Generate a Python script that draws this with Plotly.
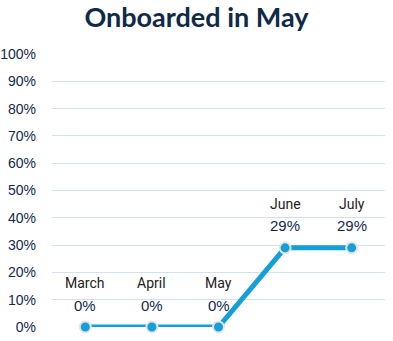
import plotly.graph_objects as go

# Share of staff onboarded, by month
months = ["March", "April", "May", "June", "July"]
values = [0.0, 0.0, 0.0, 0.29, 0.29]
value_labels = ["0%", "0%", "0%", "29%", "29%"]

line_color = "#159fd8"
navy = "#13294b"

fig = go.Figure()
fig.add_trace(go.Scatter(
    x=months, y=values, mode="lines+markers",
    line=dict(color=line_color, width=5),
    marker=dict(size=11, color=line_color, line=dict(color="#e4e4e4", width=2)),
    cliponaxis=False, hoverinfo="skip", showlegend=False,
))

annotations = []
for m, v, lab in zip(months, values, value_labels):
    annotations.append(dict(x=m, y=v, xref="x", yref="y", text=m, showarrow=False,
                            yshift=44, font=dict(family="Roboto", size=14, color="#222222")))
    annotations.append(dict(x=m, y=v, xref="x", yref="y", text=lab, showarrow=False,
                            yshift=22, font=dict(family="Liberation Sans", size=15, color=navy)))

fig.update_layout(
    width=393, height=341,
    margin=dict(l=52, r=8, t=54, b=14),
    paper_bgcolor="white", plot_bgcolor="white",
    title=dict(text="<b>Onboarded in May</b>", x=0.5, xanchor="center", y=0.948, yanchor="middle",
               font=dict(family="Lato", size=27, color="#0f2a47")),
    xaxis=dict(showgrid=False, showticklabels=False, zeroline=False, showline=False,
               range=[-0.5, 4.5], automargin=False),
    yaxis=dict(range=[0, 1], dtick=0.1, tickformat=".0%", gridcolor="#cfe2f3", gridwidth=1,
               zeroline=False, showline=False, ticks="", ticklabelstandoff=15, automargin=False,
               tickfont=dict(family="Liberation Sans", size=14, color=navy)),
    annotations=annotations,
)

fig.write_html("out.html")
